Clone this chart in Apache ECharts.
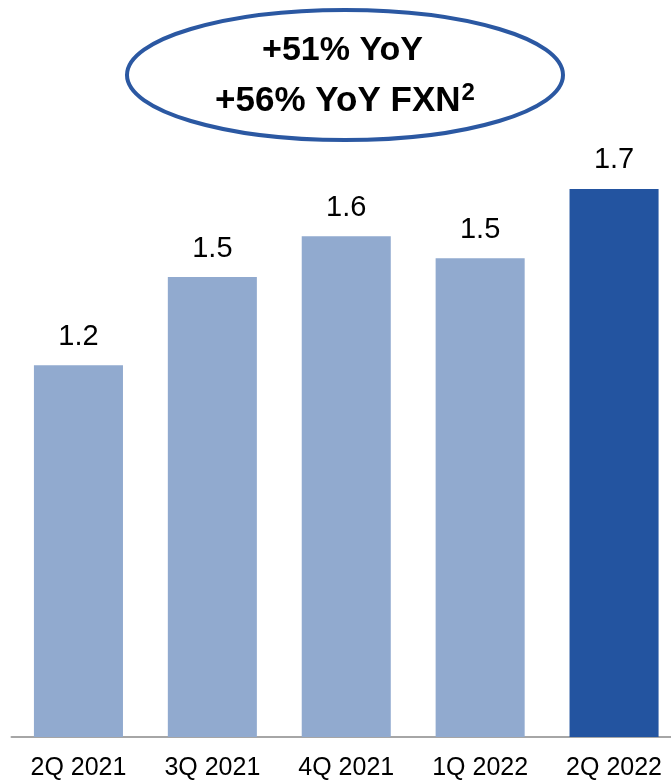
<!DOCTYPE html>
<html>
<head>
<meta charset="utf-8">
<script src="https://cdn.jsdelivr.net/npm/echarts@6/dist/echarts.min.js"></script>
<style>
  html, body { margin: 0; padding: 0; background: #ffffff; }
  #chart { width: 671px; height: 784px; }
</style>
</head>
<body>
<div id="chart"></div>
<script>
// Quarterly values (labels show one decimal)
const quarters = ['2Q 2021', '3Q 2021', '4Q 2021', '1Q 2022', '2Q 2022'];
const values = [1.18, 1.46, 1.59, 1.52, 1.74];
const highlightIndex = 4;

const LIGHT = '#91AACF';
const DARK = '#2354A0';

const chart = echarts.init(document.getElementById('chart'), null, { renderer: 'canvas' });

chart.setOption({
  animation: false,
  backgroundColor: '#ffffff',
  grid: {
    left: 11.5,
    width: 669.5,
    top: 107,
    bottom: 47,
    outerBoundsMode: 'none',
    containLabel: false
  },
  xAxis: {
    type: 'category',
    data: quarters,
    axisTick: { show: false },
    axisLine: { show: true, lineStyle: { color: '#a6a6a6', width: 2 } },
    axisLabel: {
      color: '#000000',
      fontFamily: 'Liberation Sans, Arial, sans-serif',
      fontSize: 25,
      margin: 19,
      interval: 0
    }
  },
  yAxis: {
    type: 'value',
    min: 0,
    max: 2,
    show: false,
    splitLine: { show: false }
  },
  series: [{
    type: 'bar',
    barWidth: '66.5%',
    data: values.map((v, i) => ({
      value: v,
      itemStyle: { color: i === highlightIndex ? DARK : LIGHT }
    })),
    label: {
      show: true,
      position: 'top',
      distance: 14,
      color: '#000000',
      fontFamily: 'Liberation Sans, Arial, sans-serif',
      fontSize: 29,
      formatter: p => p.value.toFixed(1)
    }
  }],
  graphic: [
    {
      type: 'ellipse',
      shape: { cx: 345, cy: 75, rx: 218, ry: 65 },
      style: { fill: '#ffffff', stroke: '#2B58A2', lineWidth: 4 }
    },
    {
      type: 'text',
      x: 342.5,
      y: 51,
      style: {
        text: '+51% YoY',
        fill: '#000000',
        font: 'bold 34px "Liberation Sans", Arial, sans-serif',
        align: 'center',
        verticalAlign: 'middle'
      }
    },
    {
      type: 'text',
      x: 345,
      y: 101,
      style: {
        text: '+56% YoY FXN{sup|2}',
        fill: '#000000',
        font: 'bold 35px "Liberation Sans", Arial, sans-serif',
        align: 'center',
        verticalAlign: 'middle',
        rich: {
          sup: {
            fontSize: 24,
            fontWeight: 'bold',
            fontFamily: 'Liberation Sans, Arial, sans-serif',
            fill: '#000000',
            padding: [0, 0, 16, 1]
          }
        }
      }
    }
  ]
});
</script>
</body>
</html>
